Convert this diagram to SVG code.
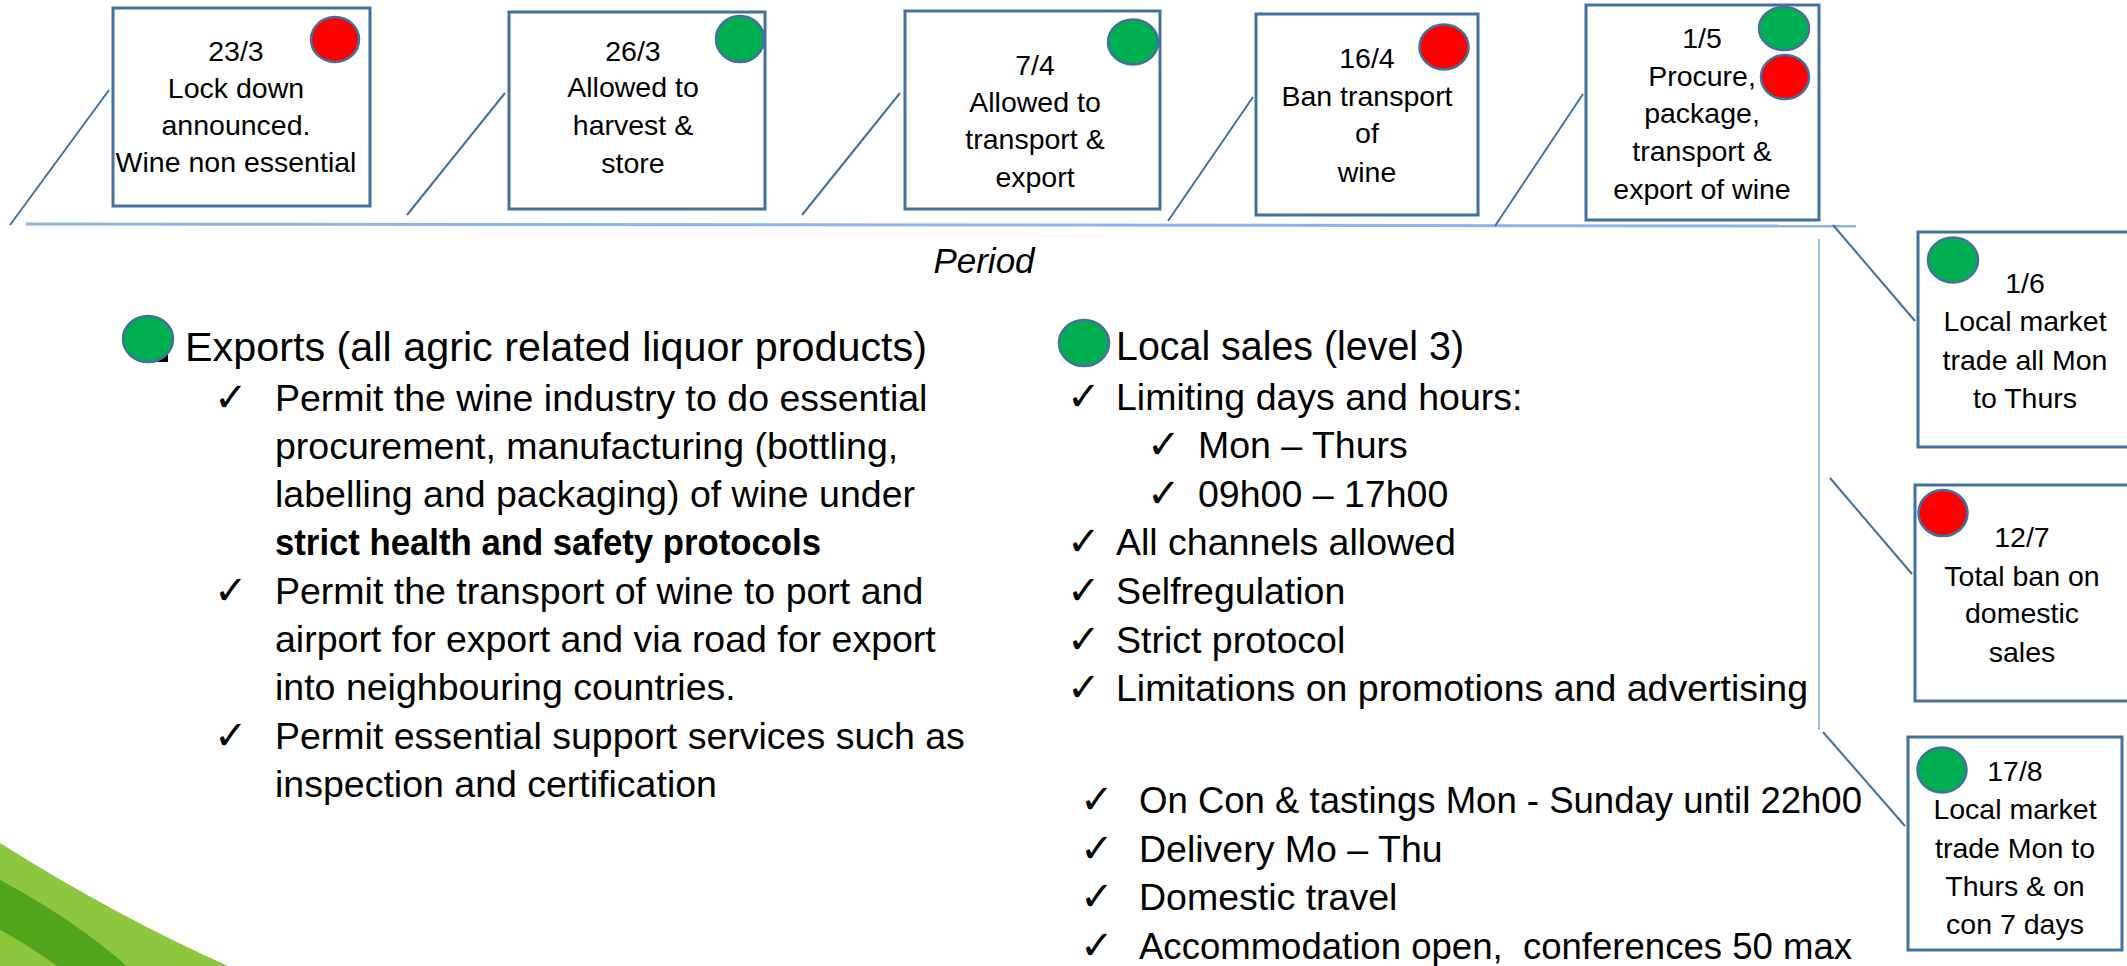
<svg xmlns="http://www.w3.org/2000/svg" width="2127" height="966" viewBox="0 0 2127 966">
<style>
text{font-family:"Liberation Sans",Arial,sans-serif;fill:#000}
.box{fill:#fff;stroke:#41719C;stroke-width:3}
.bt{font-size:28.5px;text-anchor:middle}
.g{fill:#00B050;stroke:#41719C;stroke-width:2.5}
.r{fill:#FF0000;stroke:#41719C;stroke-width:2.5}
.dl{stroke:#41719C;stroke-width:2;fill:none}
.ll{stroke:#8DB4E2;stroke-width:3;fill:none}
.vl{stroke:#9DC3E6;stroke-width:2;fill:none}
.h{font-size:41px}
.b{font-size:37.5px}
.ck{font-family:"DejaVu Sans",sans-serif;font-size:40px}
</style>
<rect width="2127" height="966" fill="#fff"/>
<g id="swoosh">
<path d="M0,843 Q114,915 228,966 L0,966 Z" fill="#8DC63F"/>
<path d="M0,880 Q70,917 127,966 L57,966 Q30,946 0,930 Z" fill="#52A41C"/>
</g>
<g id="connectors">
<line class="ll" x1="26" y1="224" x2="1856" y2="226"/>
<line class="vl" x1="1819" y1="239" x2="1819" y2="730"/>
<line class="dl" x1="10" y1="225" x2="109" y2="90"/>
<line class="dl" x1="407" y1="215" x2="505" y2="93"/>
<line class="dl" x1="802" y1="215" x2="900" y2="93"/>
<line class="dl" x1="1168" y1="221" x2="1253" y2="97"/>
<line class="dl" x1="1495" y1="226" x2="1583" y2="94"/>
<line class="dl" x1="1833" y1="225" x2="1915" y2="321"/>
<line class="dl" x1="1830" y1="478" x2="1912" y2="574"/>
<line class="dl" x1="1823" y1="732" x2="1905" y2="826"/>
</g>
<g id="n-23-3">
<rect class="box" x="113" y="8" width="257" height="198"/>
<ellipse class="r" cx="335" cy="39.5" rx="24" ry="22.5"/>
<text class="bt" x="236" y="61">23/3</text>
<text class="bt" x="236" y="98">Lock down</text>
<text class="bt" x="236" y="135">announced.</text>
<text class="bt" x="236" y="172">Wine non essential</text>
</g>
<g id="n-26-3">
<rect class="box" x="509" y="12" width="256" height="197"/>
<ellipse class="g" cx="740" cy="39" rx="24" ry="23"/>
<text class="bt" x="633" y="61">26/3</text>
<text class="bt" x="633" y="97">Allowed to</text>
<text class="bt" x="633" y="135">harvest &amp;</text>
<text class="bt" x="633" y="173">store</text>
</g>
<g id="n-7-4">
<rect class="box" x="905" y="11" width="255" height="198"/>
<ellipse class="g" cx="1133" cy="42" rx="25" ry="22.5"/>
<text class="bt" x="1035" y="75">7/4</text>
<text class="bt" x="1035" y="112">Allowed to</text>
<text class="bt" x="1035" y="149">transport &amp;</text>
<text class="bt" x="1035" y="187">export</text>
</g>
<g id="n-16-4">
<rect class="box" x="1256" y="14" width="222" height="201"/>
<ellipse class="r" cx="1444" cy="47" rx="24.5" ry="22.5"/>
<text class="bt" x="1367" y="68">16/4</text>
<text class="bt" x="1367" y="106">Ban transport</text>
<text class="bt" x="1367" y="143">of</text>
<text class="bt" x="1367" y="182">wine</text>
</g>
<g id="n-1-5">
<rect class="box" x="1586" y="5" width="233" height="215"/>
<ellipse class="g" cx="1784" cy="28.5" rx="25" ry="21.5"/>
<ellipse class="r" cx="1785" cy="77" rx="24" ry="22"/>
<text class="bt" x="1702" y="48">1/5</text>
<text class="bt" x="1702" y="86">Procure,</text>
<text class="bt" x="1702" y="123">package,</text>
<text class="bt" x="1702" y="161">transport &amp;</text>
<text class="bt" x="1702" y="199">export of wine</text>
</g>
<g id="n-1-6">
<rect class="box" x="1918" y="232" width="230" height="215"/>
<ellipse class="g" cx="1953" cy="260" rx="25" ry="22.5"/>
<text class="bt" x="2025" y="293">1/6</text>
<text class="bt" x="2025" y="331">Local market</text>
<text class="bt" x="2025" y="370">trade all Mon</text>
<text class="bt" x="2025" y="408">to Thurs</text>
</g>
<g id="n-12-7">
<rect class="box" x="1915" y="485" width="230" height="216"/>
<ellipse class="r" cx="1943" cy="513" rx="24.5" ry="23"/>
<text class="bt" x="2022" y="547">12/7</text>
<text class="bt" x="2022" y="586">Total ban on</text>
<text class="bt" x="2022" y="623">domestic</text>
<text class="bt" x="2022" y="662">sales</text>
</g>
<g id="n-17-8">
<rect class="box" x="1908" y="737" width="214" height="213"/>
<ellipse class="g" cx="1942" cy="770" rx="24.5" ry="22.5"/>
<text class="bt" x="2015" y="781">17/8</text>
<text class="bt" x="2015" y="819">Local market</text>
<text class="bt" x="2015" y="858">trade Mon to</text>
<text class="bt" x="2015" y="896">Thurs &amp; on</text>
<text class="bt" x="2015" y="934">con 7 days</text>
</g>
<g id="period">
<text x="984" y="273" font-size="35" font-style="italic" text-anchor="middle">Period</text>
</g>
<g id="exports">
<rect x="151" y="345" width="17" height="17" fill="#000"/>
<ellipse class="g" cx="148" cy="339" rx="25" ry="23"/>
<text class="h" x="185" y="361" textLength="742" lengthAdjust="spacingAndGlyphs">Exports (all agric related liquor products)</text>
<text class="ck" x="214" y="411">✓</text>
<text class="b" x="275" y="411">Permit the wine industry to do essential</text>
<text class="b" x="275" y="459">procurement, manufacturing (bottling,</text>
<text class="b" x="275" y="507">labelling and packaging) of wine under</text>
<text class="b" x="275" y="555" font-weight="bold" textLength="546" lengthAdjust="spacingAndGlyphs">strict health and safety protocols</text>
<text class="ck" x="214" y="604">✓</text>
<text class="b" x="275" y="604">Permit the transport of wine to port and</text>
<text class="b" x="275" y="652">airport for export and via road for export</text>
<text class="b" x="275" y="700">into neighbouring countries.</text>
<text class="ck" x="214" y="749">✓</text>
<text class="b" x="275" y="749">Permit essential support services such as</text>
<text class="b" x="275" y="797">inspection and certification</text>
</g>
<g id="local-sales">
<ellipse class="g" cx="1084" cy="343" rx="25" ry="23"/>
<text class="h" x="1116" y="360" textLength="348" lengthAdjust="spacingAndGlyphs">Local sales (level 3)</text>
<text class="ck" x="1067" y="410">✓</text>
<text class="b" x="1116" y="410">Limiting days and hours:</text>
<text class="ck" x="1147" y="458">✓</text>
<text class="b" x="1198" y="458">Mon – Thurs</text>
<text class="ck" x="1147" y="507">✓</text>
<text class="b" x="1198" y="507">09h00 – 17h00</text>
<text class="ck" x="1067" y="555">✓</text>
<text class="b" x="1116" y="555">All channels allowed</text>
<text class="ck" x="1067" y="604">✓</text>
<text class="b" x="1116" y="604">Selfregulation</text>
<text class="ck" x="1067" y="653">✓</text>
<text class="b" x="1116" y="653">Strict protocol</text>
<text class="ck" x="1067" y="701">✓</text>
<text class="b" x="1116" y="701">Limitations on promotions and advertising</text>
<text class="ck" x="1080" y="813">✓</text>
<text class="b" x="1139" y="813" textLength="723" lengthAdjust="spacingAndGlyphs">On Con &amp; tastings Mon - Sunday until 22h00</text>
<text class="ck" x="1080" y="862">✓</text>
<text class="b" x="1139" y="862">Delivery Mo – Thu</text>
<text class="ck" x="1080" y="910">✓</text>
<text class="b" x="1139" y="910">Domestic travel</text>
<text class="ck" x="1080" y="959">✓</text>
<text class="b" x="1139" y="959" textLength="713" lengthAdjust="spacingAndGlyphs">Accommodation open,&#160; conferences 50 max</text>
</g>
</svg>
